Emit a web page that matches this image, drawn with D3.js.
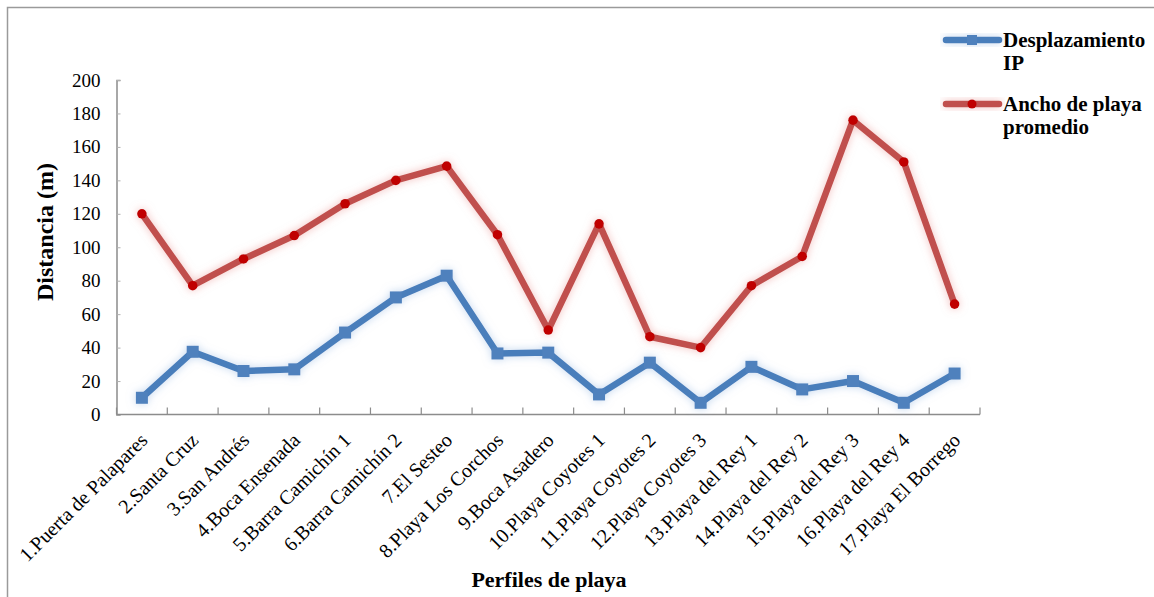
<!DOCTYPE html>
<html>
<head>
<meta charset="utf-8">
<script src="https://cdn.jsdelivr.net/npm/d3@7"></script>
<style>
  html, body { margin: 0; padding: 0; background: #fff; }
  svg { display: block; }
  text { font-family: "Liberation Serif", "DejaVu Serif", serif; fill: #000; }
</style>
</head>
<body>
<svg id="chart" width="1154" height="597"></svg>
<script>
// Beach profiles (x categories)
const perfiles = [
  "1.Puerta de Palapares", "2.Santa Cruz", "3.San Andrés", "4.Boca Ensenada",
  "5.Barra Camichín 1", "6.Barra Camichín 2", "7.El Sesteo", "8.Playa Los Corchos",
  "9.Boca Asadero", "10.Playa Coyotes 1", "11.Playa Coyotes 2", "12.Playa Coyotes 3",
  "13.Playa del Rey 1", "14.Playa del Rey 2", "15.Playa del Rey 3", "16.Playa del Rey 4",
  "17.Playa El Borrego"
];

// Shoreline displacement (m)
const desplazamientoIP = [10, 37.5, 26, 27, 49, 70, 83, 36.5, 37, 12, 31, 7, 28.5, 15, 20, 7, 24.5];

// Mean beach width (m)
const anchoPlaya = [120, 77, 93, 107, 126, 140, 148.5, 107.5, 50.5, 114, 46.5, 40, 77, 94.5, 176, 151, 66];

const yTicks = [0, 20, 40, 60, 80, 100, 120, 140, 160, 180, 200];

const seriesNames = [["Desplazamiento", "IP"], ["Ancho de playa", "promedio"]];

const svg = d3.select("#chart");

// Outer frame
svg.append("path")
  .attr("d", "M7.5,597 L7.5,7.5 L1154,7.5")
  .attr("fill", "none").attr("stroke", "#9a9a9a").attr("stroke-width", 1.5);

const plot = { left: 116.5, right: 980, top: 80, bottom: 414.5 };

const x = d3.scaleBand().domain(perfiles).range([plot.left, plot.right]);
const y = d3.scaleLinear().domain([0, 200]).range([plot.bottom, plot.top]);

// Glow filters for the lines
const defs = svg.append("defs");
function glow(id, color) {
  const f = defs.append("filter").attr("id", id)
    .attr("x", "-10%").attr("y", "-20%").attr("width", "120%").attr("height", "140%");
  f.append("feGaussianBlur").attr("in", "SourceAlpha").attr("stdDeviation", 4).attr("result", "b");
  f.append("feFlood").attr("flood-color", color).attr("flood-opacity", 0.55);
  f.append("feComposite").attr("in2", "b").attr("operator", "in").attr("result", "g");
  const m = f.append("feMerge");
  m.append("feMergeNode").attr("in", "g");
  m.append("feMergeNode").attr("in", "SourceGraphic");
}
glow("glowBlue", "#8fb3e0");
glow("glowRed", "#e88a88");

// Y axis
const yAxis = svg.append("g").attr("transform", `translate(${plot.left},0)`)
  .call(d3.axisLeft(y).tickValues(yTicks).tickSize(-4).tickPadding(16));
yAxis.select(".domain").attr("stroke", "#8c8c8c").attr("stroke-width", 1.5);
yAxis.selectAll(".tick line").attr("stroke", "#b0b0b0");
yAxis.selectAll(".tick text")
  .style("font-family", "'Liberation Serif', serif").style("font-size", "19px").attr("fill", "#000");

// X axis: ticks between categories, pointing up
const xAxisG = svg.append("g").attr("transform", `translate(0,${plot.bottom})`);
xAxisG.append("line")
  .attr("x1", plot.left).attr("x2", plot.right)
  .attr("stroke", "#8c8c8c").attr("stroke-width", 1.5);
const boundaries = perfiles.map(p => x(p)).concat([plot.right]);
xAxisG.selectAll("line.tk").data(boundaries).join("line").attr("class", "tk")
  .attr("x1", d => d).attr("x2", d => d).attr("y1", 0).attr("y2", -7)
  .attr("stroke", "#8c8c8c").attr("stroke-width", 1.2);
xAxisG.selectAll("text").data(perfiles).join("text")
  .attr("transform", d => `translate(${x(d) + x.bandwidth() / 2 + 2},${22}) rotate(-45)`)
  .attr("text-anchor", "end")
  .attr("dy", "0.35em")
  .style("font-size", "20px")
  .text(d => d);

// Axis titles
svg.append("text")
  .attr("transform", `translate(53,232) rotate(-90)`)
  .attr("text-anchor", "middle")
  .style("font-size", "24px").style("font-weight", "bold")
  .text("Distancia (m)");
svg.append("text")
  .attr("x", 549).attr("y", 587)
  .attr("text-anchor", "middle")
  .style("font-size", "22px").style("font-weight", "bold")
  .text("Perfiles de playa");

const cx = d => x(d) + x.bandwidth() / 2;
const line = d3.line().x(d => cx(d.p)).y(d => y(d.v));

const blueData = perfiles.map((p, i) => ({ p, v: desplazamientoIP[i] }));
const redData = perfiles.map((p, i) => ({ p, v: anchoPlaya[i] }));

const blueColor = "#4a7ebb", blueMarker = "#4f81bd";
const redColor = "#c0504d", redMarker = "#c00000";

// Red series
const gRed = svg.append("g").attr("filter", "url(#glowRed)");
gRed.append("path").datum(redData).attr("d", line)
  .attr("fill", "none").attr("stroke", redColor).attr("stroke-width", 6.5)
  .attr("stroke-linejoin", "round").attr("stroke-linecap", "round");
gRed.selectAll("circle").data(redData).join("circle")
  .attr("cx", d => cx(d.p)).attr("cy", d => y(d.v)).attr("r", 4.8)
  .attr("fill", redMarker);

// Blue series
const gBlue = svg.append("g").attr("filter", "url(#glowBlue)");
gBlue.append("path").datum(blueData).attr("d", line)
  .attr("fill", "none").attr("stroke", blueColor).attr("stroke-width", 6.5)
  .attr("stroke-linejoin", "round").attr("stroke-linecap", "round");
gBlue.selectAll("rect").data(blueData).join("rect")
  .attr("x", d => cx(d.p) - 6).attr("y", d => y(d.v) - 6)
  .attr("width", 12).attr("height", 12)
  .attr("fill", blueMarker);

// Legend
const legend = svg.append("g");
const legendItems = [
  { names: seriesNames[0], color: blueColor, mk: "rect", mcolor: blueMarker, y: 40, filter: "url(#glowBlue)" },
  { names: seriesNames[1], color: redColor, mk: "circle", mcolor: redMarker, y: 104, filter: "url(#glowRed)" }
];
legendItems.forEach(it => {
  const g = legend.append("g").attr("filter", it.filter);
  g.append("line").attr("x1", 946).attr("x2", 999).attr("y1", it.y).attr("y2", it.y)
    .attr("stroke", it.color).attr("stroke-width", 6.5).attr("stroke-linecap", "round");
  if (it.mk === "rect") {
    g.append("rect").attr("x", 967).attr("y", it.y - 5).attr("width", 10).attr("height", 10).attr("fill", it.mcolor);
  } else {
    g.append("circle").attr("cx", 972).attr("cy", it.y).attr("r", 4.5).attr("fill", it.mcolor);
  }
  const t = legend.append("text").attr("x", 1003).attr("y", it.y + 7)
    .style("font-size", "21px").style("font-weight", "bold");
  t.append("tspan").attr("x", 1003).text(it.names[0]);
  t.append("tspan").attr("x", 1003).attr("dy", 23).text(it.names[1]);
});
</script>
</body>
</html>
